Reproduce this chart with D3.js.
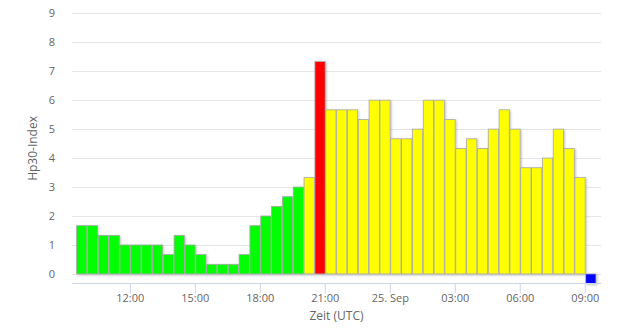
<!DOCTYPE html>
<html>
<head>
<meta charset="utf-8">
<script src="https://cdn.jsdelivr.net/npm/d3@7"></script>
<style>
  body { margin: 0; background: #fff; }
  svg { display: block; font-family: "Open Sans", sans-serif; }
</style>
</head>
<body>
<div id="chart"></div>
<script>
// Hp30 values, one per 30 min interval, starting 24 Sep 09:30 UTC
const startTime = "2023-09-24T09:30:00Z";
const hpValues = [
  1.667, 1.667, 1.333, 1.333, 1, 1, 1, 1, 0.667, 1.333, 1, 0.667,
  0.333, 0.333, 0.333, 0.667, 1.667, 2, 2.333, 2.667, 3, 3.333, 7.333,
  5.667, 5.667, 5.667, 5.333, 6, 6, 4.667, 4.667, 5, 6, 6, 5.333,
  4.333, 4.667, 4.333, 5, 5.667, 5, 3.667, 3.667, 4, 5, 4.333, 3.333,
  -0.333
];
const yTicks = [0, 1, 2, 3, 4, 5, 6, 7, 8, 9];
const yTitle = "Hp30-Index";
const xTitle = "Zeit (UTC)";

(function () {
  const width = 630;
  const height = 331;
  const left = 72, right = 601, top = 13.3, bottom = 283.6;
  const halfHour = 30 * 60 * 1000;

  const t0 = new Date(startTime);
  const data = hpValues.map((v, i) => ({
    t: new Date(t0.getTime() + i * halfHour),
    value: v,
  }));

  function barColor(v) {
    if (v < 0) return "#0000ff";
    if (v < 3.2) return "#00ff00";
    if (v < 7) return "#ffff00";
    return "#ff0000";
  }

  const x = d3
    .scaleUtc()
    .domain([new Date("2023-09-24T09:20:00Z"), new Date("2023-09-25T09:45:00Z")])
    .range([left, right]);

  const y = d3.scaleLinear().domain([-1 / 3, 9]).range([bottom, top]);

  const svg = d3
    .select("#chart")
    .append("svg")
    .attr("width", width)
    .attr("height", height);

  const defs = svg.append("defs");
  defs
    .append("filter")
    .attr("id", "shadow")
    .attr("x", "-20%")
    .attr("y", "-20%")
    .attr("width", "140%")
    .attr("height", "140%")
    .append("feDropShadow")
    .attr("dx", 1)
    .attr("dy", 1)
    .attr("stdDeviation", 0.8)
    .attr("flood-color", "#000")
    .attr("flood-opacity", 0.25);

  // grid lines
  svg
    .append("g")
    .selectAll("line")
    .data(yTicks)
    .enter()
    .append("line")
    .attr("x1", left)
    .attr("x2", right)
    .attr("y1", (d) => Math.round(y(d)) + 0.5)
    .attr("y2", (d) => Math.round(y(d)) + 0.5)
    .style("stroke", "#e6e6e6")
    .style("stroke-width", "1px");

  // y labels
  svg
    .append("g")
    .selectAll("text")
    .data(yTicks)
    .enter()
    .append("text")
    .attr("x", 55)
    .attr("y", (d) => y(d) + 4)
    .attr("text-anchor", "end")
    .style("font-size", "11px")
    .style("fill", "#666")
    .text((d) => d);

  svg
    .append("text")
    .attr("transform", `translate(37,${(top + bottom) / 2}) rotate(-90)`)
    .attr("text-anchor", "middle")
    .style("font-size", "12px")
    .style("fill", "#666")
    .text(yTitle);

  // bars
  svg
    .append("g")
    .attr("filter", "url(#shadow)")
    .selectAll("rect")
    .data(data)
    .enter()
    .append("rect")
    .attr("x", (d) => x(d.t) + 1)
    .attr("width", (d) => x(new Date(d.t.getTime() + halfHour)) - x(d.t) - 0.6)
    .attr("y", (d) => Math.min(y(d.value), y(0)))
    .attr("height", (d) => Math.abs(y(0) - y(d.value)))
    .style("fill", (d) => barColor(d.value))
    .style("stroke", "#a8a8a8")
    .style("stroke-width", "0.8px");

  // x axis
  const xTicks = x.ticks(d3.utcHour.every(3));
  const fmtHour = d3.utcFormat("%H:%M");
  const fmtDay = d3.utcFormat("%-d. %b");

  const xAxis = d3
    .axisBottom(x)
    .tickValues(xTicks)
    .tickSize(10)
    .tickPadding(1)
    .tickFormat((d) => (d.getUTCHours() === 0 ? fmtDay(d) : fmtHour(d)));

  const gx = svg
    .append("g")
    .attr("transform", `translate(0,${Math.round(bottom) - 0.5})`)
    .call(xAxis);

  gx.select(".domain").remove();
  gx.append("line")
    .attr("x1", left)
    .attr("x2", right)
    .style("stroke", "#ccd6eb");
  gx.selectAll(".tick line").style("stroke", "#ccd6eb");
  gx.selectAll(".tick text")
    .style("font-size", "11px")
    .style("font-family", "'Open Sans', sans-serif")
    .style("fill", "#666");

  svg
    .append("text")
    .attr("x", (left + right) / 2)
    .attr("y", 320)
    .attr("text-anchor", "middle")
    .style("font-size", "12px")
    .style("fill", "#666")
    .text(xTitle);
})();
</script>
</body>
</html>
